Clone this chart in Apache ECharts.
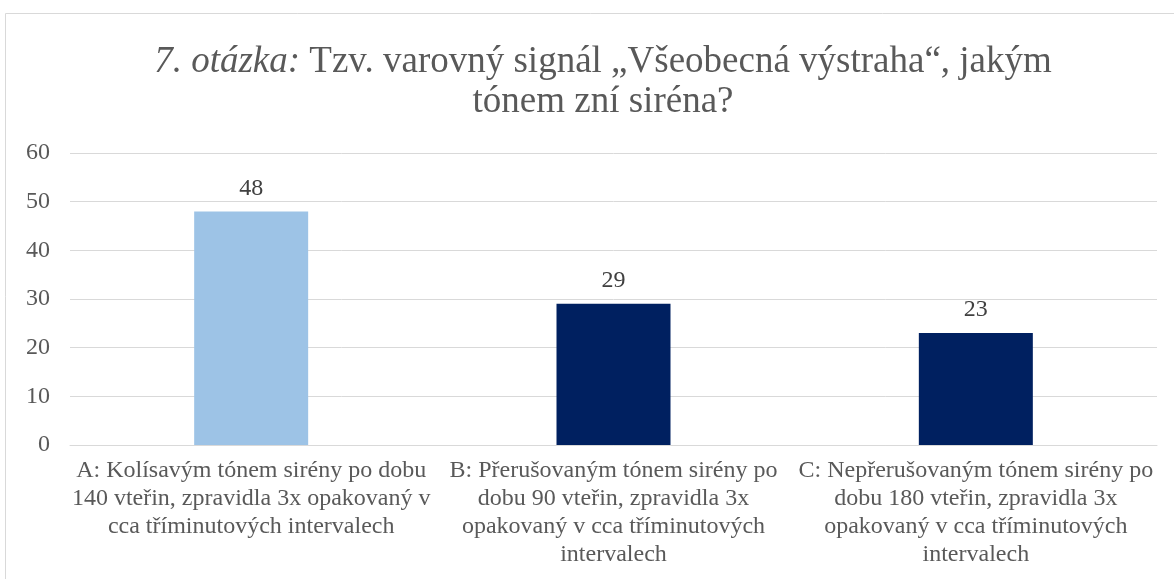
<!DOCTYPE html>
<html>
<head>
<meta charset="utf-8">
<script src="https://cdn.jsdelivr.net/npm/echarts@6/dist/echarts.min.js"></script>
<style>
  html, body { margin: 0; padding: 0; background: #fff; }
  #chart { width: 1174px; height: 579px; }
</style>
</head>
<body>
<div id="chart"></div>
<script>
const categories = [
  "A: Kolísavým tónem sirény po dobu\n140 vteřin, zpravidla 3x opakovaný v\ncca tříminutových intervalech",
  "B: Přerušovaným tónem sirény po\ndobu 90 vteřin, zpravidla 3x\nopakovaný v cca tříminutových\nintervalech",
  "C: Nepřerušovaným tónem sirény po\ndobu 180 vteřin, zpravidla 3x\nopakovaný v cca tříminutových\nintervalech"
];
const values = [48, 29, 23];
const barColors = ["#9dc3e6", "#002060", "#002060"];

const serif = "Liberation Serif";
const chart = echarts.init(document.querySelector("#chart"));

chart.setOption({
  animation: false,
  graphic: [{
    type: "rect",
    shape: { x: 5.5, y: 13.5, width: 1300, height: 700 },
    style: { fill: "none", stroke: "#d9d9d9", lineWidth: 1 },
    silent: true
  }],
  title: {
    text: "{i|7. otázka:} Tzv. varovný signál „Všeobecná výstraha“, jakým\ntónem zní siréna?",
    left: 598,
    textAlign: "center",
    top: 37,
    textStyle: {
      fontFamily: serif,
      fontSize: 37,
      fontWeight: "normal",
      color: "#595959",
      lineHeight: 40,
      rich: {
        i: { fontFamily: serif, fontSize: 37, fontStyle: "italic", color: "#595959", lineHeight: 40 }
      }
    }
  },
  grid: { left: 70, right: 17, top: 153, bottom: 134 },
  xAxis: {
    type: "category",
    data: categories,
    axisLine: { lineStyle: { color: "#d9d9d9" } },
    axisTick: { show: false },
    axisLabel: {
      interval: 0,
      margin: 12,
      fontFamily: serif,
      fontSize: 24,
      lineHeight: 28,
      color: "#595959"
    }
  },
  yAxis: {
    type: "value",
    min: 0,
    max: 60,
    interval: 10,
    axisLine: { show: false },
    axisTick: { show: false },
    splitLine: { lineStyle: { color: "#d9d9d9", width: 1 } },
    axisLabel: {
      margin: 20,
      fontFamily: serif,
      fontSize: 24,
      color: "#595959"
    }
  },
  series: [{
    type: "bar",
    barWidth: 114,
    data: values.map((v, i) => ({ value: v, itemStyle: { color: barColors[i] } })),
    label: {
      show: true,
      position: "top",
      distance: 11,
      fontFamily: serif,
      fontSize: 24,
      color: "#404040"
    }
  }]
});
</script>
</body>
</html>
